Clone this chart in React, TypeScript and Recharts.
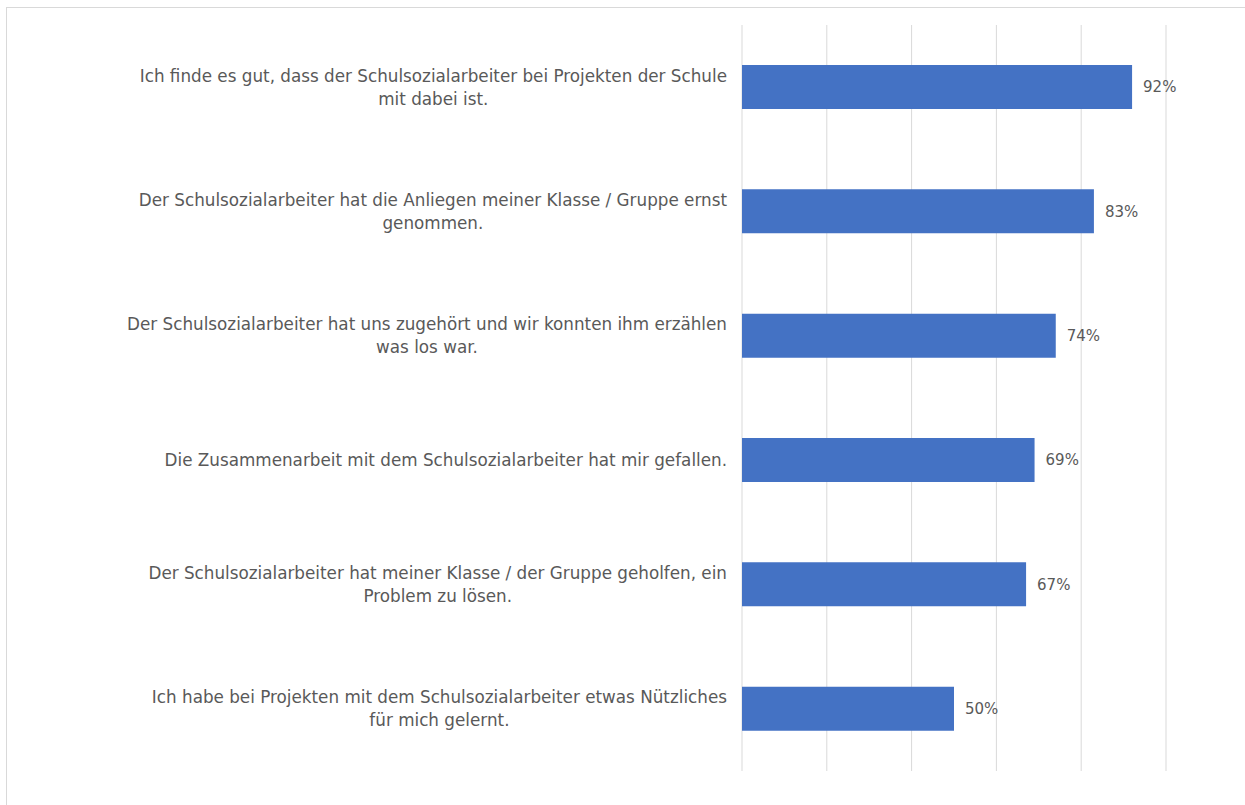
import { BarChart, Bar, XAxis, YAxis, CartesianGrid, LabelList } from 'recharts';

const categories = [
  'Ich finde es gut, dass der Schulsozialarbeiter bei Projekten der Schule\nmit dabei ist.',
  'Der Schulsozialarbeiter hat die Anliegen meiner Klasse / Gruppe ernst\ngenommen.',
  'Der Schulsozialarbeiter hat uns zugehört und wir konnten ihm erzählen\nwas los war.',
  'Die Zusammenarbeit mit dem Schulsozialarbeiter hat mir gefallen.',
  'Der Schulsozialarbeiter hat meiner Klasse / der Gruppe geholfen, ein\nProblem zu lösen.',
  'Ich habe bei Projekten mit dem Schulsozialarbeiter etwas Nützliches\nfür mich gelernt.',
];
const values = [92, 83, 74, 69, 67, 50];
const xTicks = [0, 20, 40, 60, 80, 100];

const data = categories.map((name, i) => ({ name, value: values[i] }));

const FONT = '"DejaVu Sans", sans-serif';
const TICK_SIZE = 16.8;
const VALUE_SIZE = 15;
const TEXT_COLOR = '#595959';

let ctx: CanvasRenderingContext2D | null = null;
const measure = (s: string) => {
  if (!ctx) ctx = document.createElement('canvas').getContext('2d');
  if (!ctx) return s.length * 9;
  ctx.font = `${TICK_SIZE}px ${FONT}`;
  return ctx.measureText(s).width;
};

const CategoryTick = (props: any) => {
  const { x, y, payload } = props;
  const lines: string[] = String(payload.value).split('\n');
  const blockW = Math.max(...lines.map(measure));
  const cx = x - blockW / 2;
  const lh = 23;
  const y0 = y - ((lines.length - 1) * lh) / 2;
  return (
    <text x={cx} y={y0} textAnchor="middle" fill={TEXT_COLOR} fontSize={TICK_SIZE} fontFamily={FONT}>
      {lines.map((l, i) => (
        <tspan key={i} x={cx} y={y0 + i * lh} dy="0.35em">
          {l}
        </tspan>
      ))}
    </text>
  );
};

export default function App() {
  return (
    <div style={{ position: 'relative', width: 1245, height: 805, background: '#fff' }}>
      <style>{`body{margin:0}`}</style>
      <div
        style={{
          position: 'absolute',
          left: 6,
          top: 7,
          width: 1260,
          height: 820,
          border: '1px solid #d9d9d9',
          boxSizing: 'border-box',
        }}
      />
      <div style={{ position: 'absolute', left: 0, top: 0 }}>
        <BarChart
          width={1245}
          height={805}
          data={data}
          layout="vertical"
          margin={{ top: 25, right: 79, bottom: 34, left: 0 }}
        >
          <CartesianGrid horizontal={false} stroke="#d9d9d9" />
          <XAxis type="number" domain={[0, 100]} ticks={xTicks} hide />
          <YAxis
            type="category"
            dataKey="name"
            width={742}
            axisLine={false}
            tickLine={false}
            tickSize={0}
            tickMargin={15}
            interval={0}
            tick={<CategoryTick />}
          />
          <Bar dataKey="value" fill="#4472c4" barSize={44} isAnimationActive={false}>
            <LabelList
              dataKey="value"
              position="right"
              offset={11}
              fill={TEXT_COLOR}
              fontSize={VALUE_SIZE}
              fontFamily={FONT}
              formatter={(v: any) => `${v}%`}
            />
          </Bar>
        </BarChart>
      </div>
    </div>
  );
}
